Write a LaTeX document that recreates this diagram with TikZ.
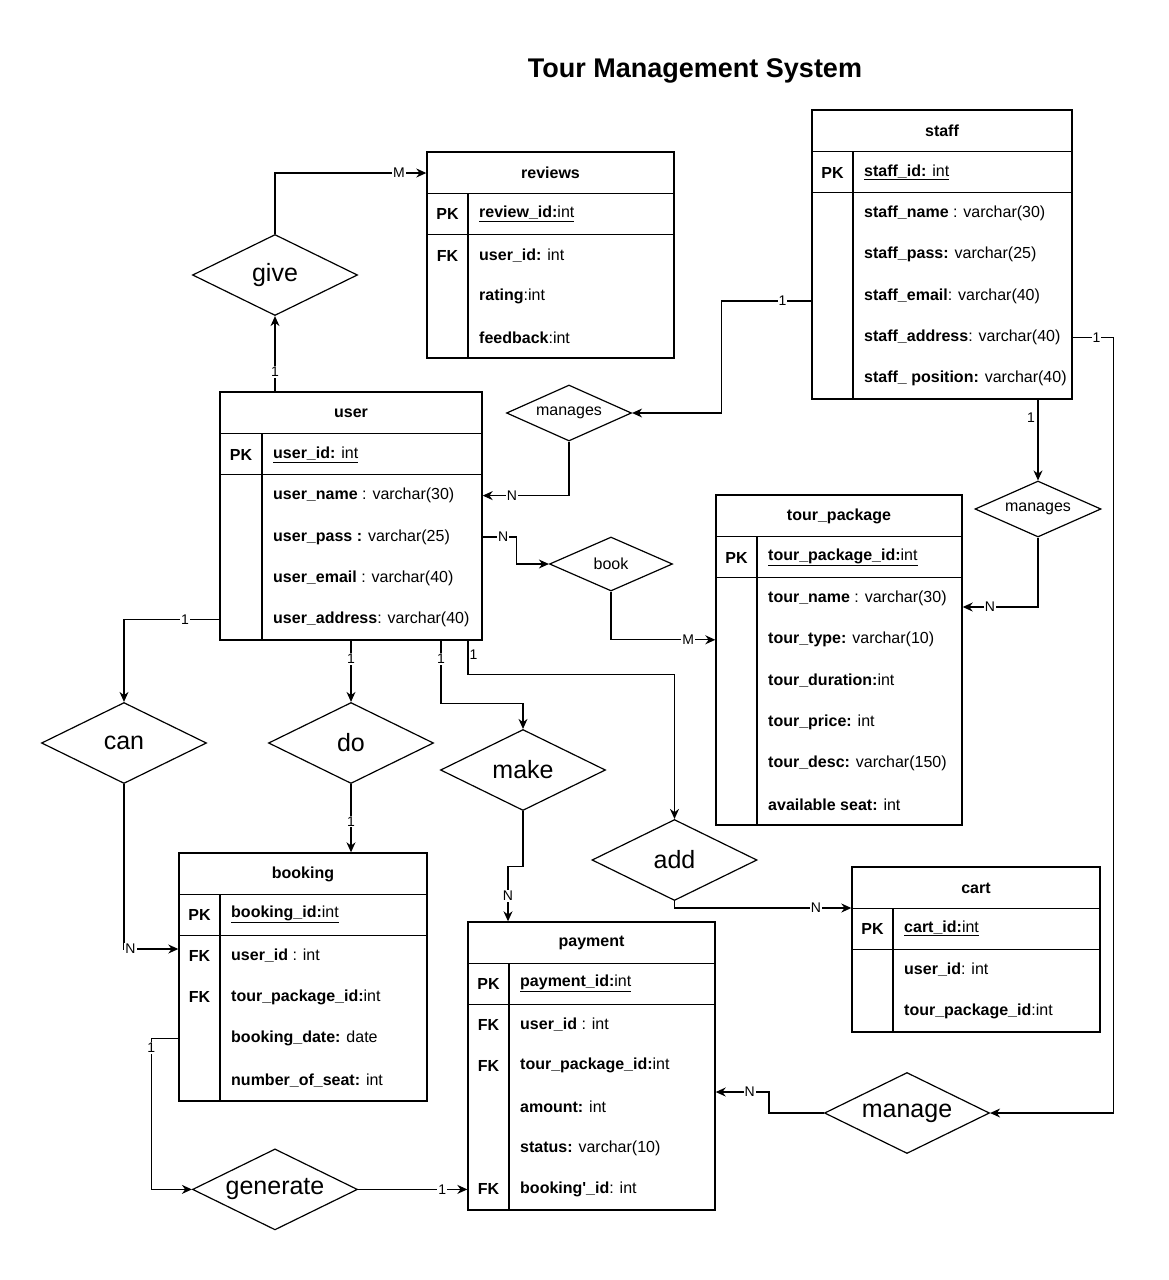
\documentclass[tikz,border=0pt]{standalone}
\usepackage{fontspec}
\setmainfont{Liberation Sans}
\usetikzlibrary{fit,shapes.geometric,arrows.meta,calc}
\newcommand\myff{\fontsize{16}{19}\selectfont}
\newcommand\mybig{\fontsize{25}{30}\selectfont}
\newcommand\mymid{\fontsize{16}{19}\selectfont}
\newcommand\mylbl{\fontsize{14}{16}\selectfont}
\newcommand\myttl{\fontsize{27}{32}\selectfont\bfseries}
\tikzset{
 tabbox/.style={draw, line width=1.4pt, inner sep=0pt},
 tline/.style={line width=1.4pt},
 keytxt/.style={font=\myff\bfseries, inner sep=0pt},
 fieldtxt/.style={font=\myff, inner sep=0pt, anchor=west},
 headtxt/.style={font=\myff\bfseries, inner sep=0pt},
 relbig/.style={draw, diamond, aspect=2, line width=1.2pt, inner sep=0pt, font=\mybig, minimum width=165pt, minimum height=81pt},
 relsmall/.style={draw, diamond, aspect=2.2, line width=1.2pt, inner sep=0pt, font=\mymid, minimum width=125pt, minimum height=56pt},
 conn/.style={line width=1.2pt, -{Stealth[length=10pt,width=9pt]}},
 lbl/.style={fill=white, inner sep=1pt, font=\mylbl},
}
% #1 name, #2 xl, #3 yt, #4 xr, #5 yb, #6 xdiv, #7 title
\newcommand\ertable[7]{%
 \node[tabbox, fit={(#2,#3) (#4,#5)}] (#1) {};
 \draw[tline] (#2,#3+41.5) -- (#4,#3+41.5);
 \draw[tline] (#2,#3+82.5) -- (#4,#3+82.5);
 \draw[tline] (#6,#3+41.5) -- (#6,#5);
 \node[headtxt] (#1-head) at ({(#2+#4)/2},#3+21) {#7};
}
% #1 name, #2 key, #3 xl, #4 xdiv, #5 y, #6 text
\newcommand\erfield[6]{%
 \node[keytxt] (#1-key) at ({(#3+#4)/2},#5) {#2};
 \node[fieldtxt] (#1) at (#4+11,#5) {#6};
}
\begin{document}
\begin{tikzpicture}[x=1pt,y=-1pt]
\fill[white] (0,0) rectangle (1168,1280);
\useasboundingbox (0,0) rectangle (1168,1280);

\node[font=\myttl] (title) at (695,71) {Tour Management System};

% reviews
\ertable{reviews}{427}{152}{674}{358}{468}{reviews}
\erfield{rv0}{PK}{427}{468}{214}{\underline{\textbf{review\_id:}int}}
\erfield{rv1}{FK}{427}{468}{255.5}{\textbf{user\_id:} int}
\erfield{rv2}{}{427}{468}{296.5}{\textbf{rating}:int}
\erfield{rv3}{}{427}{468}{337.5}{\textbf{feedback}:int}

% staff
\ertable{staff}{812}{110}{1072}{399}{853}{staff}
\erfield{sf0}{PK}{812}{853}{172.5}{\underline{\textbf{staff\_id:} int}}
\erfield{sf1}{}{812}{853}{213.6}{\textbf{staff\_name} : varchar(30)}
\erfield{sf2}{}{812}{853}{254.8}{\textbf{staff\_pass:} varchar(25)}
\erfield{sf3}{}{812}{853}{296}{\textbf{staff\_email}: varchar(40)}
\erfield{sf4}{}{812}{853}{337.2}{\textbf{staff\_address}: varchar(40)}
\erfield{sf5}{}{812}{853}{378.4}{\textbf{staff\_ position:} varchar(40)}

% user
\ertable{user}{220}{392}{482}{640}{262}{user}
\erfield{ur0}{PK}{220}{262}{455}{\underline{\textbf{user\_id:} int}}
\erfield{ur1}{}{220}{262}{495.6}{\textbf{user\_name} : varchar(30)}
\erfield{ur2}{}{220}{262}{536.9}{\textbf{user\_pass :} varchar(25)}
\erfield{ur3}{}{220}{262}{578.1}{\textbf{user\_email} : varchar(40)}
\erfield{ur4}{}{220}{262}{619.4}{\textbf{user\_address}: varchar(40)}

% tour_package
\ertable{tour}{716}{495}{962}{825}{757}{tour\_package}
\erfield{tr0}{PK}{716}{757}{557.5}{\underline{\textbf{tour\_package\_id:}int}}
\erfield{tr1}{}{716}{757}{598.6}{\textbf{tour\_name} : varchar(30)}
\erfield{tr2}{}{716}{757}{639.8}{\textbf{tour\_type:} varchar(10)}
\erfield{tr3}{}{716}{757}{680.9}{\textbf{tour\_duration:}int}
\erfield{tr4}{}{716}{757}{722.1}{\textbf{tour\_price:} int}
\erfield{tr5}{}{716}{757}{763.3}{\textbf{tour\_desc:} varchar(150)}
\erfield{tr6}{}{716}{757}{804.4}{\textbf{available seat:} int}

% booking
\ertable{booking}{179}{853}{427}{1101}{220}{booking}
\erfield{bk0}{PK}{179}{220}{914.5}{\underline{\textbf{booking\_id:}int}}
\erfield{bk1}{FK}{179}{220}{955.75}{\textbf{user\_id} : int}
\erfield{bk2}{FK}{179}{220}{997.25}{\textbf{tour\_package\_id:}int}
\erfield{bk3}{}{179}{220}{1038.75}{\textbf{booking\_date:} date}
\erfield{bk4}{}{179}{220}{1080.25}{\textbf{number\_of\_seat:} int}

% payment
\ertable{payment}{468}{922}{715}{1210}{509}{payment}
\erfield{pm0}{PK}{468}{509}{983.5}{\underline{\textbf{payment\_id:}int}}
\erfield{pm1}{FK}{468}{509}{1024.6}{\textbf{user\_id} : int}
\erfield{pm2}{FK}{468}{509}{1065.8}{\textbf{tour\_package\_id:}int}
\erfield{pm3}{}{468}{509}{1107}{\textbf{amount:} int}
\erfield{pm4}{}{468}{509}{1148.2}{\textbf{status:} varchar(10)}
\erfield{pm5}{FK}{468}{509}{1189.4}{\textbf{booking\textquotesingle\_id}: int}

% cart
\ertable{cart}{852}{867}{1100}{1032}{893}{cart}
\erfield{ct0}{PK}{852}{893}{928.5}{\underline{\textbf{cart\_id:}int}}
\erfield{ct1}{}{852}{893}{969.75}{\textbf{user\_id}: int}
\erfield{ct2}{}{852}{893}{1011.25}{\textbf{tour\_package\_id}:int}

% relationships
\node[relbig] (give) at (275,275) {give};
\node[relsmall] (manages1) at (569,413) {manages};
\node[relsmall, minimum width=126pt] (manages2) at (1038,509) {manages};
\node[relsmall, minimum width=123pt, minimum height=54pt] (book) at (611,564) {book};
\node[relbig] (can) at (124,743) {can};
\node[relbig] (do) at (351,743) {do};
\node[relbig] (make) at (523,770) {make};
\node[relbig] (add) at (674.5,860) {add};
\node[relbig] (generate) at (275,1189.4) {generate};
\node[relbig] (manage) at (907,1113) {manage};

% connectors
\draw[conn] (user.north -| give) -- node[lbl,pos=0.26]{1} (give.south);
\draw[conn] (give.north) |- node[lbl,pos=0.91]{M} (reviews.west |- reviews-head);
\draw[conn] ([yshift=-46.5pt]staff.west) -- node[lbl,pos=0.32]{1} ++(-90,0) |- (manages1.east);
\draw[conn] (manages1.south) |- node[lbl,pos=0.83]{N} (user.east |- ur1);
\draw[conn] (user.east |- ur2) -- node[lbl,pos=0.6]{N} ++(34,0) |- (book.west);
\draw[conn] (book.south) |- node[lbl,pos=0.87]{M} (tour.west |- tr2);
\draw[conn] (staff.south -| manages2) -- node[lbl,pos=0.22,xshift=-7pt,fill=none]{1} (manages2.north);
\draw[conn] (manages2.south) |- node[lbl,pos=0.82]{N} ([yshift=53pt]tour.east);
\draw[conn] (staff.east |- sf4) -- node[lbl,pos=0.58]{1} ++(41,0) |- (manage.east);
\draw[conn] (manage.west) -- ++(-55,0) |- node[lbl,pos=0.68]{N} ([yshift=-26pt]payment.east);
\draw[conn] (user.west |- ur4) -| node[lbl,pos=0.18]{1} (can.north);
\draw[conn] (can.south) |- node[lbl,pos=0.56]{N} ([yshift=28pt]booking.west);
\draw[conn] (user.south -| do) -- node[lbl,pos=0.3]{1} (do.north);
\draw[conn] (do.south) -- node[lbl,pos=0.55]{1} (do.south |- booking.north);
\draw[conn] ([xshift=90pt]user.south) -- node[lbl,pos=0.29]{1} ++(0,63) -| (make.north);
\draw[conn] (make.south) -- ++(0,55) -| node[lbl,pos=0.77]{N} ([xshift=-83.5pt]payment.north);
\draw[conn] ([xshift=117pt]user.south) -- node[lbl,pos=0.42,anchor=west,fill=none]{1} ++(0,34) -| (add.north);
\draw[conn] (add.south) |- node[lbl,pos=0.9]{N} ([yshift=41.5pt]cart.west);
\draw[conn] (booking.west |- bk3) -- ++(-27,0) |- node[lbl,pos=0.03]{1} (generate.west);
\draw[conn] (generate.east) -- node[lbl,pos=0.77]{1} (payment.west |- pm5);
\end{tikzpicture}
\end{document}
